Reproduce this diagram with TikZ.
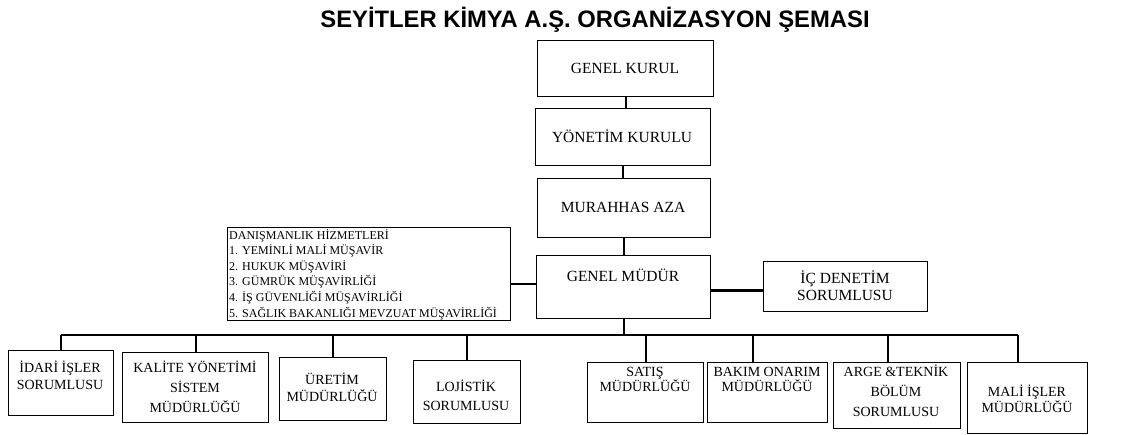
\documentclass[tikz,border=0pt]{standalone}
\usepackage{fontspec}
\setmainfont{Liberation Serif}
\newfontfamily\titlefont{Liberation Sans}
\begin{document}
\begin{tikzpicture}[x=1pt,y=-1pt,
  box/.style={draw, line width=1.4pt, anchor=north west, inner sep=0pt},
  toptxt/.style={align=center, inner sep=0pt, font=\fontsize{15.5}{17}\selectfont},
  bt/.style={align=center, inner sep=0pt, anchor=north, font=\fontsize{14}{#1}\selectfont},
  link/.style={line width=2pt},
  heavylink/.style={line width=3pt}]
\fill[white] (0,0) rectangle (1143,434);
\useasboundingbox (0,0) rectangle (1143,434);
% title
\node[font=\titlefont\bfseries\fontsize{23.8}{28}\selectfont, anchor=base, inner sep=0pt] (title) at (595,27) {SEYİTLER KİMYA A.Ş. ORGANİZASYON ŞEMASI};
% top chain
\node[box, minimum width=176pt, minimum height=56pt] (gk) at (537,40) {};
\node[box, minimum width=175pt, minimum height=57pt] (yk) at (535,108) {};
\node[box, minimum width=173pt, minimum height=59pt] (ma) at (537,178) {};
\node[box, minimum width=174pt, minimum height=63pt] (gm) at (536,255) {};
\node[box, minimum width=164pt, minimum height=50pt] (ic) at (763,261) {};
\node[box, minimum width=283pt, minimum height=93pt] (dan) at (227,227) {};
\node[toptxt] (gkt) at (625,68) {GENEL KURUL};
\node[toptxt] (ykt) at (622,136) {YÖNETİM KURULU};
\node[toptxt] (mat) at (623,207) {MURAHHAS AZA};
\node[toptxt] (gmt) at (623,275) {GENEL MÜDÜR};
\node[toptxt] (ict) at (845,286) {İÇ DENETİM\\SORUMLUSU};
\node[align=left, inner sep=0pt, anchor=north west, font=\fontsize{12}{15.6}\selectfont] (dant) at (229,229)
  {DANIŞMANLIK HİZMETLERİ\\1. YEMİNLİ MALİ MÜŞAVİR\\2. HUKUK MÜŞAVİRİ\\3. GÜMRÜK MÜŞAVİRLİĞİ\\4. İŞ GÜVENLİĞİ MÜŞAVİRLİĞİ\\5. SAĞLIK BAKANLIĞI MEVZUAT MÜŞAVİRLİĞİ};
% bottom boxes
\node[box, minimum width=105pt, minimum height=65pt] (b1) at (8,350) {};
\node[box, minimum width=146pt, minimum height=70pt] (b2) at (122,352) {};
\node[box, minimum width=107pt, minimum height=63pt] (b3) at (279,357) {};
\node[box, minimum width=107pt, minimum height=63pt] (b4) at (413,360) {};
\node[box, minimum width=116pt, minimum height=60pt] (b5) at (587,362) {};
\node[box, minimum width=120pt, minimum height=60pt] (b6) at (707,362) {};
\node[box, minimum width=127pt, minimum height=66pt] (b7) at (833,362) {};
\node[box, minimum width=120pt, minimum height=71pt] (b8) at (967,362) {};
\node[bt=17] (b1t) at (60,360.3) {İDARİ İŞLER\\SORUMLUSU};
\node[bt=20] (b2t) at (195,360.3) {KALİTE YÖNETİMİ\\SİSTEM\\MÜDÜRLÜĞÜ};
\node[bt=17] (b3t) at (332,372.3) {ÜRETİM\\MÜDÜRLÜĞÜ};
\node[bt=19] (b4t) at (466,379.3) {LOJİSTİK\\SORUMLUSU};
\node[bt=15.5] (b5t) at (645,366.7) {SATIŞ\\MÜDÜRLÜĞÜ};
\node[bt=15.5] (b6t) at (767,366.7) {BAKIM ONARIM\\MÜDÜRLÜĞÜ};
\node[bt=20] (b7t) at (896,364.3) {ARGE \&TEKNİK\\BÖLÜM\\SORUMLUSU};
\node[bt=16] (b8t) at (1027,384.3) {MALİ İŞLER\\MÜDÜRLÜĞÜ};
% connectors
\draw[link] (gk.south) -- (gk.south |- yk.north);
\draw[link] (yk.south) -- (yk.south |- ma.north);
\draw[link] (ma.south) -- (ma.south |- gm.north);
\draw[link] ([yshift=-9.5pt]dan.east) -- ([yshift=-9.5pt]dan.east -| gm.west);
\draw[heavylink] ([yshift=-3.5pt]gm.east) -- ([yshift=-3.5pt]gm.east -| ic.west);
\coordinate (bus) at (623,335);
\coordinate (busL) at (b1.north |- bus);
\coordinate (busR) at ([xshift=-10pt]b8.north |- bus);
\draw[link] (gm.south) -- (gm.south |- bus);
\draw[link] (busL) -- (busR);
\draw[link] (b1.north) -- (busL);
\draw[link] (b2.north) -- (b2.north |- bus);
\draw[link] (b3.north) -- (b3.north |- bus);
\draw[link] (b4.north) -- (b4.north |- bus);
\draw[link] (b5.north) -- (b5.north |- bus);
\draw[link] ([xshift=-15pt]b6.north) -- ([xshift=-15pt]b6.north |- bus);
\draw[link] ([xshift=-9pt]b7.north) -- ([xshift=-9pt]b7.north |- bus);
\draw[link] ([xshift=-10pt]b8.north) -- (busR);
\end{tikzpicture}
\end{document}
